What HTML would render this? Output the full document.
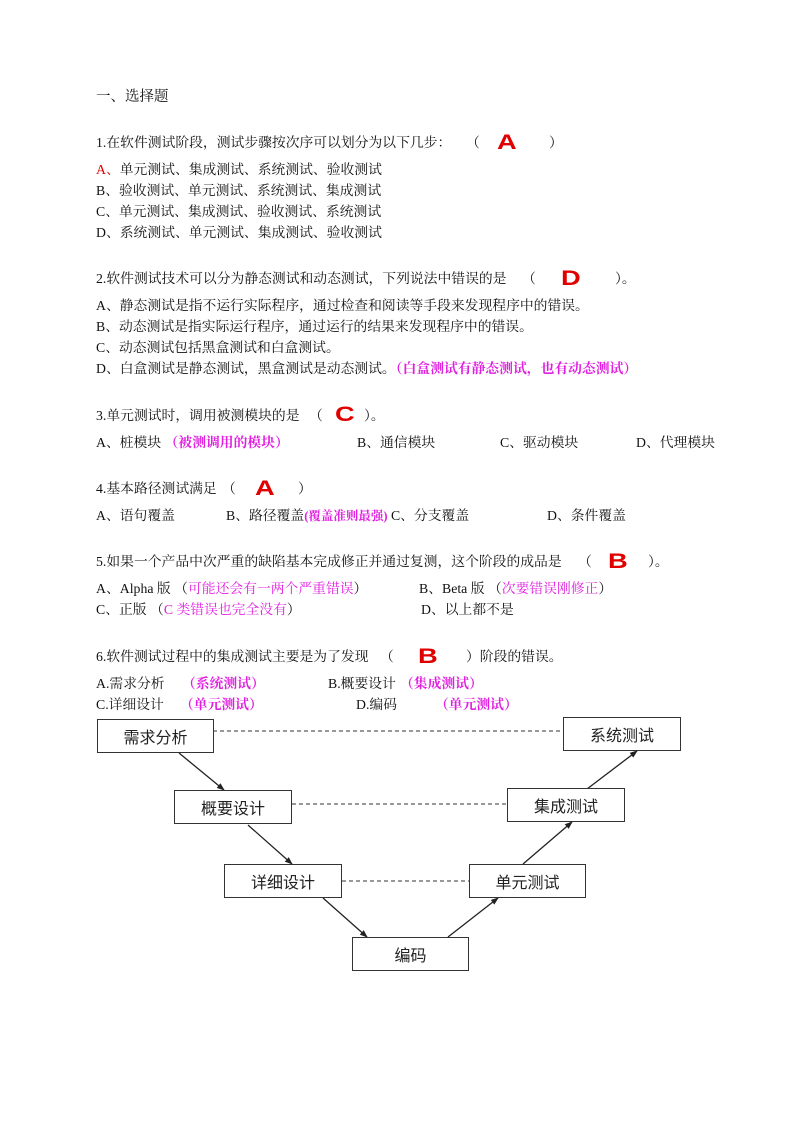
<!DOCTYPE html>
<html><head><meta charset="utf-8">
<style>
body{margin:0;background:#fff;}
#p{position:relative;width:800px;height:1132px;overflow:hidden;font-family:"Liberation Serif","Noto Serif CJK SC","Noto Sans CJK SC",serif;font-size:13.8px;color:#111;}
.l{position:absolute;left:96px;white-space:nowrap;line-height:16px;}
.r{color:#e00000;}
.m{color:#e020e0;}
.mb{color:#e020e0;font-weight:bold;}
.big{color:#e00000;font-family:"Liberation Sans",sans-serif;font-weight:bold;font-size:21px;position:absolute;transform:scaleX(1.3);transform-origin:left;}
.box{position:absolute;border:1.5px solid #333;box-sizing:border-box;display:flex;align-items:center;justify-content:center;font-family:"Liberation Sans","Noto Sans CJK SC",sans-serif;font-size:16px;color:#222;background:#fff;}
</style></head><body><div id="p">
<div class="l" style="top:89px;font-size:14.5px">一、选择题</div>

<div class="l" style="top:135px">1.在软件测试阶段，测试步骤按次序可以划分为以下几步：</div>
<div class="l" style="top:135px;left:466px">（</div>
<div class="l" style="top:135px;left:549px">）</div>
<div class="big" style="left:497px;top:131px">A</div>
<div class="l" style="top:162px"><span class="r">A、</span>单元测试、集成测试、系统测试、验收测试</div>
<div class="l" style="top:183px">B、验收测试、单元测试、系统测试、集成测试</div>
<div class="l" style="top:204px">C、单元测试、集成测试、验收测试、系统测试</div>
<div class="l" style="top:225px">D、系统测试、单元测试、集成测试、验收测试</div>

<div class="l" style="top:271px">2.软件测试技术可以分为静态测试和动态测试，下列说法中错误的是</div>
<div class="l" style="top:271px;left:522px">（</div>
<div class="l" style="top:271px;left:615px">）。</div>
<div class="big" style="left:561px;top:267px">D</div>
<div class="l" style="top:298px">A、静态测试是指不运行实际程序，通过检查和阅读等手段来发现程序中的错误。</div>
<div class="l" style="top:319px">B、动态测试是指实际运行程序，通过运行的结果来发现程序中的错误。</div>
<div class="l" style="top:340px">C、动态测试包括黑盒测试和白盒测试。</div>
<div class="l" style="top:361px">D、白盒测试是静态测试，黑盒测试是动态测试。<span class="mb">（白盒测试有静态测试，也有动态测试）</span></div>

<div class="l" style="top:408px">3.单元测试时，调用被测模块的是</div>
<div class="l" style="top:408px;left:309px">（</div>
<div class="l" style="top:408px;left:364px">）。</div>
<div class="big" style="left:335px;top:403px">C</div>
<div class="l" style="top:435px">A、桩模块 <span class="mb">（被测调用的模块）</span></div>
<div class="l" style="top:435px;left:357px">B、通信模块</div>
<div class="l" style="top:435px;left:500px">C、驱动模块</div>
<div class="l" style="top:435px;left:636px">D、代理模块</div>

<div class="l" style="top:481px">4.基本路径测试满足</div>
<div class="l" style="top:481px;left:222px">（</div>
<div class="l" style="top:481px;left:298px">）</div>
<div class="big" style="left:255px;top:477px">A</div>
<div class="l" style="top:508px">A、语句覆盖</div>
<div class="l" style="top:508px;left:226px">B、路径覆盖<span class="mb" style="font-size:12.5px">(覆盖准则最强)</span> C、分支覆盖</div>
<div class="l" style="top:508px;left:547px">D、条件覆盖</div>

<div class="l" style="top:554px">5.如果一个产品中次严重的缺陷基本完成修正并通过复测，这个阶段的成品是</div>
<div class="l" style="top:554px;left:578px">（</div>
<div class="l" style="top:554px;left:648px">）。</div>
<div class="big" style="left:608px;top:550px">B</div>
<div class="l" style="top:581px">A、Alpha 版 （<span class="m">可能还会有一两个严重错误</span>）</div>
<div class="l" style="top:581px;left:419px">B、Beta 版 （<span class="m">次要错误刚修正</span>）</div>
<div class="l" style="top:602px">C、正版 （<span class="m">C 类错误也完全没有</span>）</div>
<div class="l" style="top:602px;left:421px">D、以上都不是</div>

<div class="l" style="top:649px">6.软件测试过程中的集成测试主要是为了发现</div>
<div class="l" style="top:649px;left:380px">（</div>
<div class="l" style="top:649px;left:466px">）阶段的错误。</div>
<div class="big" style="left:418px;top:645px">B</div>
<div class="l" style="top:676px">A.需求分析</div>
<div class="l mb" style="top:676px;left:182px">（系统测试）</div>
<div class="l" style="top:676px;left:328px">B.概要设计</div>
<div class="l mb" style="top:676px;left:400px">（集成测试）</div>
<div class="l" style="top:697px">C.详细设计</div>
<div class="l mb" style="top:697px;left:180px">（单元测试）</div>
<div class="l" style="top:697px;left:356px">D.编码</div>
<div class="l mb" style="top:697px;left:435px">（单元测试）</div>

<svg style="position:absolute;left:0;top:0" width="800" height="1132">
<defs><marker id="a" markerWidth="8" markerHeight="8" refX="7" refY="4" orient="auto" markerUnits="userSpaceOnUse"><path d="M0,1 L8,4 L0,7 z" fill="#222"/></marker></defs>
<g stroke="#333" stroke-width="1" stroke-dasharray="4,3">
<line x1="213" y1="731" x2="564" y2="731"/>
<line x1="292" y1="804" x2="508" y2="804"/>
<line x1="342" y1="881" x2="469" y2="881"/>
</g>
<g stroke="#222" stroke-width="1.3" marker-end="url(#a)">
<line x1="179" y1="753" x2="224" y2="790"/>
<line x1="248" y1="825" x2="292" y2="864"/>
<line x1="323" y1="898" x2="367" y2="937"/>
<line x1="448" y1="937" x2="498" y2="898"/>
<line x1="523" y1="864" x2="572" y2="822"/>
<line x1="587" y1="789" x2="637" y2="751"/>
</g>
</svg>
<div class="box" style="left:97px;top:719px;width:117px;height:34px">需求分析</div>
<div class="box" style="left:563px;top:717px;width:118px;height:34px">系统测试</div>
<div class="box" style="left:174px;top:790px;width:118px;height:34px">概要设计</div>
<div class="box" style="left:507px;top:788px;width:118px;height:34px">集成测试</div>
<div class="box" style="left:224px;top:864px;width:118px;height:34px">详细设计</div>
<div class="box" style="left:469px;top:864px;width:117px;height:34px">单元测试</div>
<div class="box" style="left:352px;top:937px;width:117px;height:34px">编码</div>
</div></body></html>
